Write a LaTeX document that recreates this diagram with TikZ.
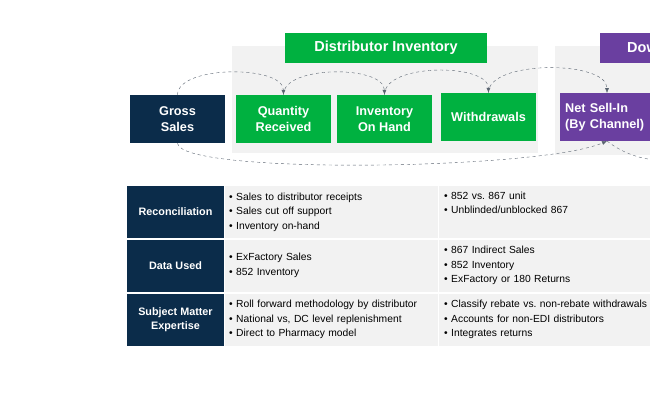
\documentclass[tikz,border=0pt]{standalone}
\usepackage{fontspec}
\setmainfont{Liberation Sans}
\usetikzlibrary{arrows.meta, positioning}
\definecolor{dNavy}{HTML}{0B2C4A}
\definecolor{dGreen}{HTML}{00B140}
\definecolor{dPurple}{HTML}{6A3FA0}
\definecolor{dGray}{HTML}{F2F2F2}
\definecolor{dLine}{HTML}{5A6470}
\frenchspacing
\tikzset{
  fBox/.style={rectangle, minimum width=95pt, minimum height=48pt, text=white, font=\bfseries\fontsize{12.7}{15.5}\selectfont, align=center, inner sep=2pt},
  fTitle/.style={rectangle, minimum height=30pt, text=white, font=\bfseries\fontsize{14.5}{16}\selectfont},
  fHead/.style={rectangle, fill=dNavy, minimum width=97pt, minimum height=52pt, text=white, font=\bfseries\fontsize{10.8}{13.5}\selectfont, align=center, inner sep=0pt},
  fCell/.style={rectangle, fill=dGray, minimum height=52pt, text width=205pt, font=\fontsize{10.3}{14.5}\selectfont, align=left, inner xsep=4pt},
  fCellR/.style={fCell, text width=240pt, minimum width=250pt},
  fArrow/.style={dashed, dLine, thin, -{Latex[length=5pt,width=4pt]}},
}
\newcommand{\bl}{\textbullet\ }
\begin{document}
\begin{tikzpicture}[x=1pt, y=-1pt]
    \useasboundingbox (0,0) rectangle (650,418);
    \clip (0,0) rectangle (650,418);
    % backgrounds
    \fill[dGray] (232,46) rectangle (538,153);
    \fill[dGray] (555,46) rectangle (700,155);
    \node (distTitle) [fTitle, fill=dGreen, minimum width=202pt] at (386,48) {Distributor Inventory};
    \node (downTitle) [fTitle, fill=dPurple, minimum width=150pt, anchor=west, text width=110pt, align=left, inner xsep=27pt] at (600,48) {Downstream};

    \node (gross) [fBox, fill=dNavy] at (177.5,119) {Gross\\Sales};
    \node (qty) [fBox, fill=dGreen] at (283.5,119) {Quantity\\Received};
    \node (onhand) [fBox, fill=dGreen] at (384.5,119) {Inventory\\On Hand};
    \node (withdr) [fBox, fill=dGreen] at (488.5,117) {Withdrawals};
    \node (netsell) [fBox, fill=dPurple, anchor=west, minimum width=120pt, text width=110pt, align=left, inner xsep=4pt] at (560,117) {Net Sell-In\\(By Channel)};
    \coordinate (netTop) at (607,93);
    \coordinate (netBot) at (607,141);
    \coordinate (farRight) at (660,160);

    \draw [fArrow] (gross.north) .. controls (178,65) and (283,65) .. (qty.north);
    \draw [fArrow] (qty.north) .. controls (283,65) and (384,65) .. (onhand.north);
    \draw [fArrow] (onhand.north) .. controls (384,63) and (488,63) .. (withdr.north);
    \draw [fArrow] (withdr.north) .. controls (488,60) and (607,60) .. (netTop);
    \draw [fArrow] (gross.south) .. controls (180,175) and (540,170) .. (netBot);
    \draw [dashed, dLine, thin] (netBot) .. controls (625,155) and (645,160) .. (farRight);

    % table
    \foreach \name/\y/\txt in {rec/212/Reconciliation, data/265.5/Data Used, sme/319.5/Subject Matter\\Expertise}
      \node (h\name) [fHead] at (175.5,\y) {\txt};
    \node (c1rec) [fCell, anchor=west, minimum width=212pt] at (225,212) {\bl Sales to distributor receipts\\\bl Sales cut off support\\\bl Inventory on-hand};
    \node (c2rec) [fCellR, anchor=west] at (439,212) {\bl 852 vs. 867 unit\\\bl Unblinded/unblocked 867\\\strut};
    \node (c1data) [fCell, anchor=west, minimum width=212pt] at (225,265.5) {\bl ExFactory Sales\\\bl 852 Inventory};
    \node (c2data) [fCellR, anchor=west] at (439,265.5) {\bl 867 Indirect Sales\\\bl 852 Inventory\\\bl ExFactory or 180 Returns};
    \node (c1sme) [fCell, anchor=west, minimum width=212pt] at (225,319.5) {\bl Roll forward methodology by distributor\\\bl National vs, DC level replenishment\\\bl Direct to Pharmacy model};
    \node (c2sme) [fCellR, anchor=west] at (439,319.5) {\bl Classify rebate vs. non-rebate withdrawals\\\bl Accounts for non-EDI distributors\\\bl Integrates returns};
\end{tikzpicture}
\end{document}
